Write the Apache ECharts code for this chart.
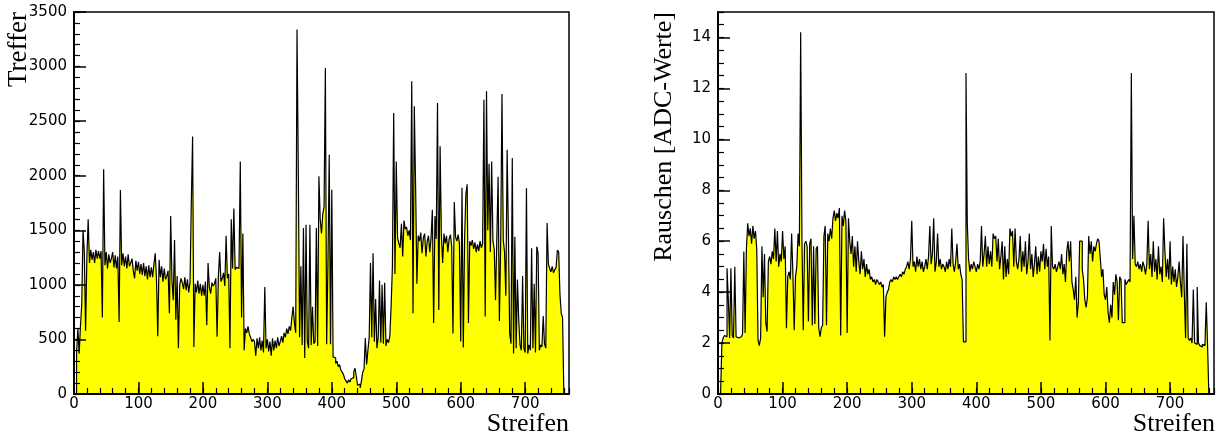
<!DOCTYPE html>
<html><head><meta charset="utf-8">
<script src="https://cdn.jsdelivr.net/npm/echarts@6/dist/echarts.min.js"></script>
<style>html,body{margin:0;padding:0;background:#fff}#c{width:1220px;height:438px}</style>
</head><body><div id="c"></div>
<script>
// each value covers 2 strips (bin width 2), strips 0..767
const binWidth = 2;
const stripMax = 768;
const treffer = [
0,0,380,600,370,620,820,1500,1300,580, 1260,1600,1200,1320,1230,1300,1200,1320,1240,1310,
1240,1310,700,2060,1180,1300,1150,1280,1200,1240, 1300,1160,1270,1150,1260,660,1870,1180,1290,1170,
1260,1150,1280,1170,1200,1240,1130,1060,1220,1130, 1210,1100,1190,1090,1200,1080,1170,1050,1180,1070,
1160,1070,1190,1290,1050,530,1230,1070,1170,1030, 1150,1050,1080,1130,740,1630,1040,860,1410,680,
1080,420,1000,1060,1020,960,1070,950,1050,930, 1020,1750,2360,430,1010,930,1040,920,1010,900,
1000,900,1030,630,1200,980,920,1020,990,1010, 1060,525,1080,1300,1030,1060,1110,990,1450,1060,
1100,420,1600,1150,1700,1140,1160,1150,1170,2130, 700,1470,400,600,560,620,550,520,480,500,
480,350,510,420,520,400,490,380,980,420, 500,390,480,350,510,400,490,420,520,440,
480,530,470,560,520,600,550,620,580,700, 800,650,560,3340,2055,520,1170,450,1520,330,
1550,480,420,1550,450,800,460,480,1520,440, 1994,1600,1470,1650,1716,2988,455,1200,2193,455,
1872,340,330,280,300,250,270,220,200,180, 140,120,100,130,110,140,150,200,236,160,
80,90,55,120,200,230,512,270,400,520, 1200,520,1290,480,870,420,520,1040,470,1000,
460,1020,440,500,470,530,800,1168,2575,1100, 2131,1430,1380,1340,1560,1260,1590,1510,1530,1450,
1500,1410,2865,740,2636,1900,1010,1450,1400,1480, 1290,1430,1470,1260,1400,1450,1300,1430,1688,650,
1630,1420,2667,770,2269,1450,1200,1470,1380,1450, 1300,1420,1460,1350,555,1760,1440,1400,1460,1380,
480,1890,425,1420,1830,1922,650,1400,1360,1410, 1330,1390,1300,1370,1310,1400,1340,1380,2697,710,
2773,1500,2110,1300,2130,1400,1330,860,1420,1990, 670,1380,2749,1410,1300,900,2238,1470,555,460,
2162,370,1440,420,1050,680,450,400,1080,420, 380,1885,370,450,400,1336,420,1010,380,1350,
1290,400,450,430,715,460,420,1566,1190,1150, 1120,1170,1110,1140,1160,1320,1300,908,740,700,
0,0,0,0
];
const rauschen = [
0,0,0,2.0,2.2,2.3,2.25,4.94,3.7,2.2, 4.94,2.3,2.2,5.0,2.25,2.2,2.15,2.25,2.3,2.35,
5.6,2.4,5.7,6.7,6.2,6.5,5.9,6.6,6.1,6.4, 5.7,2.1,1.9,2.2,5.8,3.8,5.5,2.8,2.45,5.2,
5.4,5.1,5.6,5.3,6.5,5.2,6.4,5.0,5.5,5.2, 6.4,5.3,5.8,2.58,4.6,4.8,4.5,6.3,4.7,2.5,
4.6,5.0,6.3,5.8,14.2,6.0,2.5,5.9,6.0,5.8, 2.85,5.9,6.1,2.7,5.8,2.75,5.7,5.8,2.6,2.25,
2.6,2.7,6.2,6.6,2.7,6.3,6.0,6.5,6.1,6.9, 7.2,6.8,7.1,6.9,7.3,2.3,7.0,6.6,7.2,6.8,
2.4,6.9,6.0,5.5,6.2,5.0,5.8,4.8,6.0,5.2, 4.7,5.6,4.9,5.3,4.6,5.1,4.7,4.9,4.5,4.6,
4.4,4.5,4.3,4.5,4.4,4.3,4.4,4.2,4.3,2.25, 3.8,4.0,4.1,4.4,4.5,4.4,4.6,4.5,4.6,4.5,
4.6,4.7,4.6,4.8,4.7,4.9,5.0,5.2,4.9,5.3, 6.8,5.0,5.2,4.8,5.4,5.0,5.3,4.9,5.2,4.8,
5.0,5.3,4.9,5.4,6.6,5.1,5.5,6.9,4.8,5.2, 6.3,5.0,5.3,4.9,5.1,5.0,4.8,5.2,4.9,5.3,
5.0,6.5,5.1,4.8,5.2,5.9,4.9,5.1,4.7,4.5, 2.05,2.05,12.6,6.7,5.3,4.8,5.1,4.9,5.2,5.0,
4.8,5.1,4.9,5.2,6.6,5.0,5.5,6.2,5.0,5.8, 5.1,5.6,5.0,6.3,6.1,6.2,5.2,6.1,4.9,5.4,
6.0,4.5,5.8,4.6,5.3,4.7,6.5,6.2,6.4,5.0, 6.5,5.2,4.9,5.3,6.2,4.8,5.6,5.0,6.0,4.7,
5.2,6.3,4.9,5.5,4.6,5.1,5.8,4.7,5.4,4.8, 5.6,5.2,5.9,4.9,5.7,5.0,5.4,2.1,6.6,5.0,
4.9,5.1,4.8,5.0,5.2,4.9,5.5,4.7,5.1,4.4, 5.6,6.0,5.2,6.0,4.4,4.1,3.7,4.6,3.0,3.6,
6.0,6.0,4.9,4.5,3.7,3.4,3.8,6.2,5.5,6.0, 5.2,5.8,5.6,5.9,6.1,6.0,5.3,4.6,4.9,3.9,
3.7,4.2,3.2,2.8,3.5,3.0,4.4,3.9,4.7,4.4, 2.9,4.6,4.5,2.8,2.8,4.5,4.3,4.4,4.5,4.4,
12.6,5.3,7.0,5.1,5.0,5.2,4.9,5.1,4.8,5.2, 5.0,4.7,5.1,6.8,4.9,5.5,4.6,6.0,4.8,5.3,
4.5,5.8,4.7,5.0,4.4,6.9,5.6,4.6,5.3,4.5, 6.0,4.3,5.0,4.4,4.9,4.2,4.6,5.2,4.4,3.8,
6.2,4.0,2.2,5.9,2.2,2.1,2.2,2.0,4.1,2.0, 1.95,4.2,2.0,1.9,1.85,1.95,1.9,1.95,3.6,1.95,
0,0,0,0
];
const xTitle = 'Streifen';
const yTitleLeft = 'Treffer';
const yTitleRight = 'Rauschen [ADC-Werte]';
const yLeft = {max: 3500, major: 500, minor: 100};
const yRight = {max: 15, major: 2, minor: 0.5};
const xAxisCfg = {max: stripMax, major: 100, minor: 20};

function stepData(vals) {
  const d = vals.map((v, i) => [i * binWidth, v]);
  d.push([vals.length * binWidth, vals[vals.length - 1]]);
  return d;
}

const plain = v => String(v);
const labelFont = {fontFamily: 'DejaVu Sans', fontSize: 15, color: '#000', formatter: plain};
const grids = [
  {left: 74, top: 12, width: 495, height: 382},
  {left: 718, top: 12, width: 496, height: 382}
];
const xAxes = [], yAxes = [];
[yLeft, yRight].forEach((yc, g) => {
  xAxes.push({type: 'value', gridIndex: g, min: 0, max: xAxisCfg.max, interval: xAxisCfg.major, position: 'bottom', z: 10,
    axisLine: {show: true, lineStyle: {color: '#000', width: 2}},
    axisTick: {show: true, inside: true, length: 12, lineStyle: {color: '#000', width: 1.5}},
    axisLabel: Object.assign({margin: 3, showMaxLabel: false}, labelFont),
    splitLine: {show: false}});
  xAxes.push({type: 'value', gridIndex: g, min: 0, max: xAxisCfg.max, interval: xAxisCfg.minor, position: 'bottom', z: 10,
    axisLine: {show: false},
    axisTick: {show: true, inside: true, length: 6, lineStyle: {color: '#000', width: 1.2}},
    axisLabel: {show: false}, splitLine: {show: false}});
  yAxes.push({type: 'value', gridIndex: g, min: 0, max: yc.max, interval: yc.major, position: 'left', z: 10,
    axisLine: {show: true, lineStyle: {color: '#000', width: 2}},
    axisTick: {show: true, inside: true, length: 12, lineStyle: {color: '#000', width: 1.5}},
    axisLabel: Object.assign({margin: 7, showMaxLabel: g === 0}, labelFont),
    splitLine: {show: false}});
  yAxes.push({type: 'value', gridIndex: g, min: 0, max: yc.max, interval: yc.minor, position: 'left', z: 10,
    axisLine: {show: false},
    axisTick: {show: true, inside: true, length: 6, lineStyle: {color: '#000', width: 1.2}},
    axisLabel: {show: false}, splitLine: {show: false}});
});

function hist(vals, g, name) {
  return {type: 'line', name: name, xAxisIndex: g * 2, yAxisIndex: g * 2, step: 'end',
    data: stepData(vals), symbol: 'none', showSymbol: false, clip: true,
    lineStyle: {color: '#000', width: 1.2}, areaStyle: {color: '#ffff00', opacity: 1},
    emphasis: {disabled: true}};
}

function txt(x, y, text, size, rot, align) {
  return {type: 'text', x: x, y: y, rotation: rot, z: 20,
    style: {text: text, font: size + 'px "Liberation Serif"', fill: '#000',
      align: align, verticalAlign: 'middle', textAlign: align, textVerticalAlign: 'middle'}};
}

const chart = echarts.init(document.getElementById('c'), null, {renderer: 'canvas'});
chart.setOption({
  animation: false,
  backgroundColor: '#fff',
  grid: grids.map(gr => Object.assign({show: true, borderColor: '#000', borderWidth: 1.5, backgroundColor: 'transparent'}, gr)),
  xAxis: xAxes,
  yAxis: yAxes,
  series: [hist(treffer, 0, yTitleLeft), hist(rauschen, 1, yTitleRight)],
  graphic: [
    txt(19, 12, yTitleLeft, 27, Math.PI / 2, 'right'),
    txt(664, 12, yTitleRight, 26, Math.PI / 2, 'right'),
    txt(569, 424, xTitle, 26, 0, 'right'),
    txt(1215, 424, xTitle, 26, 0, 'right')
  ]
});
</script></body></html>
